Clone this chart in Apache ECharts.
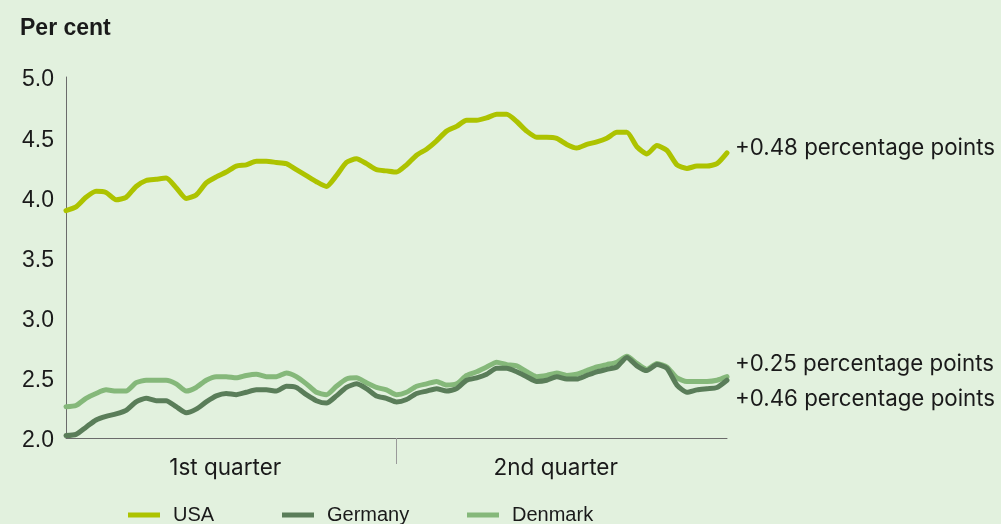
<!DOCTYPE html>
<html>
<head>
<meta charset="utf-8">
<script src="https://cdn.jsdelivr.net/npm/echarts@6/dist/echarts.min.js"></script>
<style>
  html, body { margin: 0; padding: 0; background: #e2f1de; }
  #chart { width: 1001px; height: 524px; }
</style>
</head>
<body>
<div id="chart"></div>
<script>
// Ten-year government bond yields, per cent, sampled across the first two quarters
const periodLabels = ['1st quarter', '2nd quarter'];
const seriesNames = ['USA', 'Germany', 'Denmark'];
const changeLabels = ['+0.48 percentage points', '+0.46 percentage points', '+0.25 percentage points'];
const yTicks = [2.0, 2.5, 3.0, 3.5, 4.0, 4.5, 5.0];

const usa = [
  3.89, 3.92, 4.00, 4.05, 4.04, 3.98, 4.00, 4.09, 4.14, 4.15,
  4.16, 4.08, 3.99, 4.02, 4.12, 4.17, 4.21, 4.26, 4.27, 4.30,
  4.30, 4.29, 4.28, 4.23, 4.18, 4.13, 4.09, 4.18, 4.29, 4.32,
  4.28, 4.23, 4.22, 4.21, 4.27, 4.35, 4.40, 4.47, 4.55, 4.59,
  4.64, 4.64, 4.66, 4.69, 4.69, 4.63, 4.55, 4.50, 4.50, 4.49,
  4.44, 4.41, 4.44, 4.46, 4.49, 4.54, 4.54, 4.42, 4.36, 4.43,
  4.39, 4.27, 4.24, 4.26, 4.26, 4.28, 4.37
];
const germany = [
  2.02, 2.03, 2.09, 2.15, 2.18, 2.20, 2.23, 2.30, 2.33, 2.31,
  2.31, 2.26, 2.21, 2.24, 2.30, 2.35, 2.37, 2.36, 2.38, 2.40,
  2.40, 2.39, 2.43, 2.42, 2.36, 2.31, 2.29, 2.35, 2.42, 2.45,
  2.41, 2.35, 2.33, 2.30, 2.32, 2.37, 2.39, 2.41, 2.39, 2.41,
  2.48, 2.50, 2.53, 2.58, 2.58, 2.55, 2.51, 2.47, 2.48, 2.51,
  2.49, 2.49, 2.52, 2.55, 2.57, 2.59, 2.67, 2.60, 2.56, 2.61,
  2.58, 2.44, 2.38, 2.40, 2.41, 2.42, 2.48
];
const denmark = [
  2.26, 2.27, 2.33, 2.37, 2.40, 2.39, 2.39, 2.46, 2.48, 2.48,
  2.48, 2.45, 2.39, 2.42, 2.48, 2.51, 2.51, 2.50, 2.52, 2.53,
  2.51, 2.51, 2.54, 2.51, 2.45, 2.38, 2.36, 2.43, 2.49, 2.50,
  2.46, 2.42, 2.40, 2.36, 2.38, 2.43, 2.45, 2.47, 2.44, 2.45,
  2.52, 2.55, 2.59, 2.63, 2.61, 2.60, 2.55, 2.51, 2.52, 2.54,
  2.52, 2.53, 2.56, 2.59, 2.61, 2.63, 2.68, 2.62, 2.57, 2.62,
  2.59, 2.50, 2.47, 2.47, 2.47, 2.48, 2.51
];

const colors = { USA: '#adc300', Germany: '#5a7d59', Denmark: '#85b87a' };
const textColor = '#1a1a1a';
const axisColor = '#6b6b6b';
const labelFont = 'Inter, "Open Sans", sans-serif';
const plainFont = '"Liberation Sans", Arial, sans-serif';

const lastIndex = usa.length - 1;
const toPairs = arr => arr.map((v, i) => [i, v]);

function lineSeries(name, values, label, labelOffset) {
  return {
    name: name,
    type: 'line',
    data: toPairs(values),
    showSymbol: false,
    smooth: 0.2,
    lineStyle: { width: 5, color: colors[name], cap: 'round', join: 'round' },
    itemStyle: { color: colors[name] },
    emphasis: { disabled: true },
    endLabel: {
      show: true,
      formatter: label,
      distance: 8,
      offset: labelOffset,
      color: textColor,
      fontFamily: labelFont,
      fontSize: 22.3
    }
  };
}

// One legend block per series so each entry sits at its own spot along the bottom
const legendLeft = [128, 282, 467];
const legends = seriesNames.map((name, i) => ({
  data: [name],
  left: legendLeft[i],
  top: 505,
  padding: 0,
  icon: 'rect',
  itemWidth: 32,
  itemHeight: 5,
  textStyle: { fontFamily: plainFont, fontSize: 20, color: textColor, padding: [0, 0, 0, 8] }
}));

const chart = echarts.init(document.getElementById('chart'), null, { renderer: 'canvas' });
chart.setOption({
  backgroundColor: '#e2f1de',
  animation: false,
  title: {
    text: 'Per cent',
    left: 20,
    top: 17,
    padding: 0,
    textStyle: { fontFamily: plainFont, fontWeight: 'bold', fontSize: 23, color: textColor }
  },
  legend: legends,
  grid: { left: 66, right: 274, top: 77, bottom: 86, containLabel: false },
  xAxis: {
    type: 'value',
    min: 0,
    max: lastIndex,
    splitLine: { show: false },
    axisLine: { show: true, lineStyle: { color: axisColor, width: 1 } },
    axisTick: {
      show: true,
      customValues: [lastIndex / 2],
      length: 26,
      lineStyle: { color: '#9a9a9a', width: 1 }
    },
    axisLabel: {
      customValues: [lastIndex / 4, lastIndex * 3 / 4],
      formatter: v => (v < lastIndex / 2 ? periodLabels[0] : periodLabels[1]),
      margin: 19,
      padding: [0, 12, 0, 0],
      color: textColor,
      fontFamily: labelFont,
      fontSize: 22.5
    }
  },
  yAxis: {
    type: 'value',
    min: yTicks[0],
    max: yTicks[yTicks.length - 1],
    interval: 0.5,
    splitLine: { show: false },
    axisLine: { show: true, lineStyle: { color: axisColor, width: 1 } },
    axisTick: { show: false },
    axisLabel: {
      formatter: v => v.toFixed(1),
      margin: 12,
      verticalAlign: 'top',
      lineHeight: 6,
      color: textColor,
      fontFamily: plainFont,
      fontSize: 23
    }
  },
  series: [
    lineSeries('Denmark', denmark, changeLabels[2], [0, -12]),
    lineSeries('Germany', germany, changeLabels[1], [0, 19]),
    lineSeries('USA', usa, changeLabels[0], [0, -5])
  ]
});
</script>
</body>
</html>
